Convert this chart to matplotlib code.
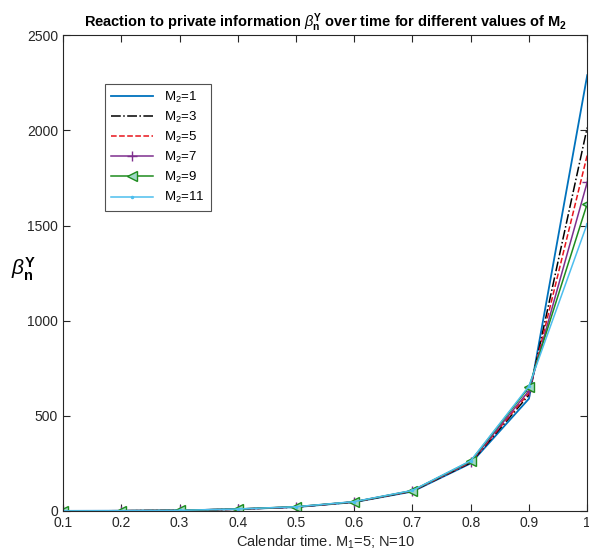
import numpy as np
import matplotlib
matplotlib.use("Agg")
import matplotlib.pyplot as plt

plt.rcParams['font.family'] = ['Liberation Sans', 'DejaVu Sans']
plt.rcParams['mathtext.fontset'] = 'custom'
plt.rcParams['mathtext.rm'] = 'Liberation Sans'
plt.rcParams['mathtext.it'] = 'Liberation Sans:italic'
plt.rcParams['mathtext.bf'] = 'Liberation Sans:bold'

t = [0.1, 0.2, 0.3, 0.4, 0.5, 0.6, 0.7, 0.8, 0.9, 1.0]

# beta_n^Y for each M2
m2_1 = [0.3, 1, 3, 9, 20, 46, 102, 250, 590, 2290]
m2_3 = [0.3, 1, 3, 9, 20, 47, 104, 253, 610, 2015]
m2_5 = [0.3, 1, 3, 9, 21, 47, 105, 256, 620, 1870]
m2_7 = [0.3, 1, 3, 10, 21, 48, 106, 259, 632, 1728]
m2_9 = [0.3, 1, 3, 10, 22, 48, 107, 262, 650, 1615]
m2_11 = [0.3, 1, 3, 10, 22, 49, 108, 264, 656, 1510]

labels = ['M$_2$=1', 'M$_2$=3', 'M$_2$=5', 'M$_2$=7', 'M$_2$=9', 'M$_2$=11']

fig = plt.figure(figsize=(5.89, 5.59), dpi=100)
ax = fig.add_axes([0.107, 0.086, 0.890, 0.851])

ax.plot(t, m2_1, '-', color='#0072BD', lw=1.3, label=labels[0])
ax.plot(t, m2_3, '-.', color='black', lw=1.1, label=labels[1])
ax.plot(t, m2_5, '--', color='#E8141B', lw=1.1, label=labels[2])
ax.plot(t, m2_7, '-', color='#7E2F8E', lw=1.1, marker='+', ms=7, label=labels[3])
ax.plot(t, m2_9, '-', color='#1E8C1E', lw=1.1, marker='<', ms=7,
        mfc='#9fd8c8', mec='#1E8C1E', label=labels[4])
ax.plot(t, m2_11, '-', color='#4DBEEE', lw=1.1, marker='.', ms=3, label=labels[5])

ax.set_xlim(0.1, 1)
ax.set_ylim(0, 2500)
ax.set_xticks(np.arange(0.1, 1.01, 0.1))
ax.set_xticklabels(['0.1', '0.2', '0.3', '0.4', '0.5', '0.6', '0.7', '0.8', '0.9', '1'])
ax.set_yticks([0, 500, 1000, 1500, 2000, 2500])
ax.tick_params(direction='in', top=True, right=True, labelsize=10, colors='#262626', length=5)
for s in ax.spines.values():
    s.set_color('#262626')
    s.set_linewidth(0.8)

ax.set_xlabel('Calendar time. M$_1$=5; N=10', fontsize=10.5, color='#262626', labelpad=3)
ax.set_ylabel(r'$\beta_\mathbf{n}^\mathbf{Y}$', fontsize=15, rotation=0)
ax.yaxis.set_label_coords(-0.075, 0.48)
ax.set_title(r'Reaction to private information $\beta_\mathbf{n}^\mathbf{Y}$ over time for different values of M$_\mathbf{2}$',
             fontsize=10.5, fontweight='bold', pad=6)

leg = ax.legend(loc='upper left', bbox_to_anchor=(0.068, 0.912), fontsize=9.5,
                frameon=True, fancybox=False, edgecolor='#262626',
                handlelength=3.2, borderpad=0.45, labelspacing=0.38)
leg.get_frame().set_linewidth(0.8)

fig.savefig('out.png', dpi=100)
